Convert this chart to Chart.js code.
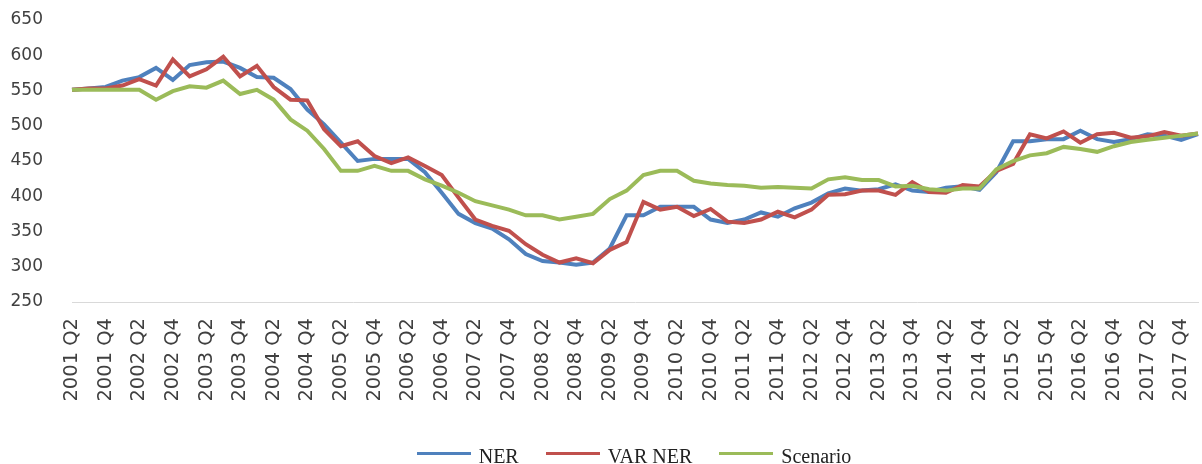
<!DOCTYPE html>
<html lang="en">
<head>
  <meta charset="UTF-8" />
  <title>NER, VAR NER and Scenario</title>
  <script src="https://cdn.jsdelivr.net/npm/chart.js"></script>
  <style>
    html, body {
      margin: 0;
      padding: 0;
      background: #ffffff;
      overflow: hidden;
    }
    .wrap {
      width: 1202px;
      height: 464px;
      overflow: hidden;
    }
  </style>
</head>
<body>
  <div class="wrap">
    <canvas id="nerChart" width="1202" height="478"></canvas>
  </div>

  <script>
    // quarters, 2001 Q2 .. 2018 Q1 (every other one is labelled)
    const quarters = [
      '2001 Q2', '2001 Q3', '2001 Q4', '2002 Q1', '2002 Q2', '2002 Q3', '2002 Q4', '2003 Q1',
      '2003 Q2', '2003 Q3', '2003 Q4', '2004 Q1', '2004 Q2', '2004 Q3', '2004 Q4', '2005 Q1',
      '2005 Q2', '2005 Q3', '2005 Q4', '2006 Q1', '2006 Q2', '2006 Q3', '2006 Q4', '2007 Q1',
      '2007 Q2', '2007 Q3', '2007 Q4', '2008 Q1', '2008 Q2', '2008 Q3', '2008 Q4', '2009 Q1',
      '2009 Q2', '2009 Q3', '2009 Q4', '2010 Q1', '2010 Q2', '2010 Q3', '2010 Q4', '2011 Q1',
      '2011 Q2', '2011 Q3', '2011 Q4', '2012 Q1', '2012 Q2', '2012 Q3', '2012 Q4', '2013 Q1',
      '2013 Q2', '2013 Q3', '2013 Q4', '2014 Q1', '2014 Q2', '2014 Q3', '2014 Q4', '2015 Q1',
      '2015 Q2', '2015 Q3', '2015 Q4', '2016 Q1', '2016 Q2', '2016 Q3', '2016 Q4', '2017 Q1',
      '2017 Q2', '2017 Q3', '2017 Q4', '2018 Q1'
    ];

    const ner = [
      551, 553, 555, 564, 569, 582, 565, 586, 590, 591, 582, 569, 568, 552, 523, 502,
      476, 450, 453, 453, 453, 434, 405, 375, 362, 354, 339, 318, 308, 306, 303, 306,
      326, 373, 373, 385, 385, 385, 367, 362, 367, 377, 371, 383, 391, 404, 411, 408,
      410, 417, 408, 406, 412, 414, 409, 434, 478, 478, 481, 481, 493, 481, 477, 481,
      488, 486, 480, 488
    ];

    const varNer = [
      551, 553, 553, 557, 566, 557, 594, 570, 580, 598, 570, 585, 555, 537, 536, 495,
      471, 478, 457, 447, 455, 443, 430, 398, 367, 358, 351, 332, 317, 306, 312, 305,
      324, 335, 392, 381, 385, 372, 382, 364, 362, 367, 378, 370, 381, 402, 403, 408,
      408, 402, 420, 406, 405, 416, 414, 436, 446, 488, 482, 492, 476, 488, 490, 483,
      485, 491, 486, 489
    ];

    const scenario = [
      551, 551, 551, 551, 551, 537, 549, 556, 554, 564, 545, 551, 537, 509, 493, 467,
      436, 436, 443, 436, 436, 424, 415, 405, 393, 387, 381, 373, 373, 367, 371, 375,
      396, 408, 430, 436, 436, 422, 418, 416, 415, 412, 413, 412, 411, 424, 427, 423,
      423, 414, 415, 410, 408, 411, 411, 438, 450, 458, 461, 470, 467, 463, 471, 477,
      480, 483, 486, 489
    ];

    const colors = ['#4F81BD', '#C0504D', '#9BBB59'];
    const textColor = '#404040';

    // legend marker: a short line that sits a bit above the text middle
    function legendLine(color) {
      const c = document.createElement('canvas');
      c.width = 54;
      c.height = 20;
      const g = c.getContext('2d');
      g.fillStyle = color;
      g.fillRect(0, 4, 54, 3);
      return c;
    }
    const markers = colors.map(legendLine);

    const ctx = document.getElementById('nerChart').getContext('2d');
    new Chart(ctx, {
      type: 'line',
      data: {
        labels: quarters,
        datasets: [
          { label: 'NER', data: ner, borderColor: colors[0], backgroundColor: colors[0], order: 3 },
          { label: 'VAR NER', data: varNer, borderColor: colors[1], backgroundColor: colors[1], order: 2 },
          { label: 'Scenario', data: scenario, borderColor: colors[2], backgroundColor: colors[2], order: 1 }
        ]
      },
      options: {
        responsive: false,
        animation: false,
        layout: { padding: { left: 0, right: 4, top: 20, bottom: 0 } },
        elements: {
          line: { borderWidth: 4, tension: 0 },
          point: { radius: 0, hoverRadius: 0 }
        },
        plugins: {
          tooltip: { enabled: false },
          legend: {
            position: 'bottom',
            fullSize: false,
            labels: {
              font: { family: "'Liberation Serif', serif", size: 20 },
              color: '#222222',
              usePointStyle: true,
              pointStyleWidth: 50,
              padding: 29,
              sort: (a, b) => a.datasetIndex - b.datasetIndex,
              generateLabels: chart =>
                Chart.defaults.plugins.legend.labels.generateLabels(chart)
                  .map(item => ({ ...item, lineWidth: 0, pointStyle: markers[item.datasetIndex] }))
            }
          }
        },
        scales: {
          x: {
            grid: { display: false, drawTicks: false },
            border: { display: true, color: '#d9d9d9', width: 1 },
            ticks: {
              autoSkip: false,
              minRotation: 90,
              maxRotation: 90,
              padding: 16,
              color: textColor,
              font: { family: "'DejaVu Sans', sans-serif", size: 19.5 },
              callback: (value, i) => (i % 2 === 0 ? quarters[i] : null)
            },
            afterFit: scale => {
              scale.height = 117;
              scale.paddingLeft = 0;
              scale.paddingRight = 0;
            }
          },
          y: {
            min: 250,
            max: 650,
            grid: { display: false, drawTicks: false },
            border: { display: false },
            ticks: {
              stepSize: 50,
              padding: 29,
              color: textColor,
              font: { family: "'DejaVu Sans', sans-serif", size: 17 }
            },
            afterFit: scale => {
              scale.width = 72;
              scale.paddingTop = 0;
              scale.paddingBottom = 0;
            }
          }
        }
      }
    });
  </script>
</body>
</html>
